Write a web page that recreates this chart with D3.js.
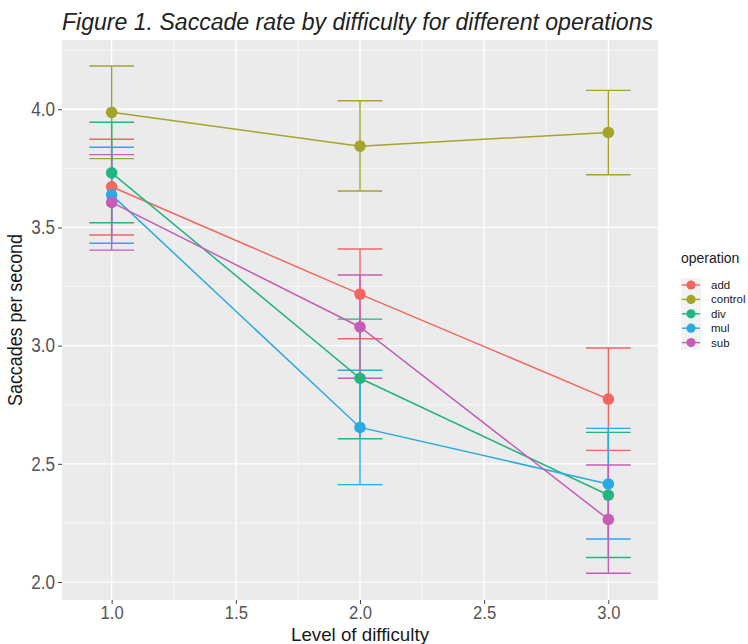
<!DOCTYPE html>
<html>
<head>
<meta charset="utf-8">
<script src="https://cdn.jsdelivr.net/npm/d3@7"></script>
<style>
  html, body { margin: 0; padding: 0; background: #ffffff; }
  svg { display: block; }
  text { font-family: "Liberation Sans", Arial, Helvetica, sans-serif; }
</style>
</head>
<body>
<svg id="chart" width="748" height="644"></svg>
<script>
// ---- data ----
const levels = [1, 2, 3];
const operations = ["add", "control", "div", "mul", "sub"];
const meanAdd     = [3.672, 3.218, 2.774];
const meanControl = [3.987, 3.844, 3.902];
const meanDiv     = [3.731, 2.862, 2.368];
const meanMul     = [3.638, 2.654, 2.415];
const meanSub     = [3.606, 3.079, 2.265];
const lowAdd      = [3.468, 3.029, 2.557];
const lowControl  = [3.791, 3.654, 3.723];
const lowDiv      = [3.520, 2.606, 2.104];
const lowMul      = [3.433, 2.412, 2.182];
const lowSub      = [3.404, 2.862, 2.037];
const highAdd     = [3.873, 3.409, 2.990];
const highControl = [4.183, 4.036, 4.080];
const highDiv     = [3.945, 3.112, 2.633];
const highMul     = [3.839, 2.896, 2.650];
const highSub     = [3.808, 3.299, 2.495];
const xTicks = [1.0, 1.5, 2.0, 2.5, 3.0];
const yTicks = [2.0, 2.5, 3.0, 3.5, 4.0];
const xMinor = [1.25, 1.75, 2.25, 2.75];
const yMinor = [2.25, 2.75, 3.25, 3.75, 4.25];
const colors = ["#F1675F", "#A3A52A", "#22B57F", "#2BA9E1", "#C55DB6"];

const means = [meanAdd, meanControl, meanDiv, meanMul, meanSub];
const lows = [lowAdd, lowControl, lowDiv, lowMul, lowSub];
const highs = [highAdd, highControl, highDiv, highMul, highSub];

const series = operations.map((op, i) => ({
  op, color: colors[i],
  pts: levels.map((lv, j) => ({ x: lv, y: means[i][j], lo: lows[i][j], hi: highs[i][j] }))
}));

// ---- layout ----
const panel = { left: 62, right: 658, top: 40, bottom: 600 };
const x = d3.scaleLinear().domain([0.8, 3.2]).range([panel.left, panel.right]);
const y = d3.scaleLinear().domain([1.924, 4.293]).range([panel.bottom, panel.top]);
const capHalf = 0.09;

const svg = d3.select("#chart");

// panel background
svg.append("rect")
  .attr("x", panel.left).attr("y", panel.top)
  .attr("width", panel.right - panel.left).attr("height", panel.bottom - panel.top)
  .attr("fill", "#EBEBEB");

const grid = svg.append("g");
grid.selectAll(".ym").data(yMinor).join("line")
  .attr("x1", panel.left).attr("x2", panel.right)
  .attr("y1", d => y(d)).attr("y2", d => y(d))
  .attr("stroke", "#fff").attr("stroke-width", 0.6);
grid.selectAll(".xm").data(xMinor).join("line")
  .attr("y1", panel.top).attr("y2", panel.bottom)
  .attr("x1", d => x(d)).attr("x2", d => x(d))
  .attr("stroke", "#fff").attr("stroke-width", 0.6);
grid.selectAll(".yM").data(yTicks).join("line")
  .attr("x1", panel.left).attr("x2", panel.right)
  .attr("y1", d => y(d)).attr("y2", d => y(d))
  .attr("stroke", "#fff").attr("stroke-width", 1.3);
grid.selectAll(".xM").data(xTicks).join("line")
  .attr("y1", panel.top).attr("y2", panel.bottom)
  .attr("x1", d => x(d)).attr("x2", d => x(d))
  .attr("stroke", "#fff").attr("stroke-width", 1.3);

// axes
const yAxis = d3.axisLeft(y).tickValues(yTicks).tickFormat(d3.format(".1f")).tickSize(4).tickPadding(3);
const xAxis = d3.axisBottom(x).tickValues(xTicks).tickFormat(d3.format(".1f")).tickSize(4).tickPadding(2);

const gy = svg.append("g").attr("transform", `translate(${panel.left},0)`).call(yAxis);
const gx = svg.append("g").attr("transform", `translate(0,${panel.bottom})`).call(xAxis);
[gx, gy].forEach(g => {
  g.select(".domain").remove();
  g.selectAll(".tick line").attr("stroke", "#444").attr("stroke-width", 1);
  g.selectAll(".tick text").attr("fill", "#555555")
    .style("font-family", "'Liberation Sans', Arial, sans-serif");
});
gy.selectAll(".tick text").style("font-size", "19.5px")
  .attr("transform", "translate(-7,0) scale(0.88,1)").attr("x", 0);
gx.selectAll(".tick text").style("font-size", "18.5px")
  .attr("transform", "scale(0.9,1)").attr("x", 0);

// error bars
const eb = svg.append("g");
series.forEach(s => {
  const g = eb.append("g").attr("stroke", s.color).attr("stroke-width", 1.4).attr("fill", "none");
  g.selectAll(".v").data(s.pts).join("line")
    .attr("x1", d => x(d.x)).attr("x2", d => x(d.x))
    .attr("y1", d => y(d.lo)).attr("y2", d => y(d.hi));
  g.selectAll(".t").data(s.pts).join("line")
    .attr("x1", d => x(d.x - capHalf)).attr("x2", d => x(d.x + capHalf))
    .attr("y1", d => y(d.hi)).attr("y2", d => y(d.hi));
  g.selectAll(".b").data(s.pts).join("line")
    .attr("x1", d => x(d.x - capHalf)).attr("x2", d => x(d.x + capHalf))
    .attr("y1", d => y(d.lo)).attr("y2", d => y(d.lo));
});

// lines
const line = d3.line().x(d => x(d.x)).y(d => y(d.y));
svg.append("g").selectAll("path").data(series).join("path")
  .attr("d", d => line(d.pts)).attr("fill", "none")
  .attr("stroke", d => d.color).attr("stroke-width", 1.5);

// points
series.forEach(s => {
  svg.append("g").selectAll("circle").data(s.pts).join("circle")
    .attr("cx", d => x(d.x)).attr("cy", d => y(d.y)).attr("r", 5.8)
    .attr("fill", s.color);
});

// title
svg.append("text")
  .attr("x", 62).attr("y", 30)
  .style("font-size", "23px").style("font-style", "italic")
  .attr("fill", "#222")
  .attr("textLength", 591).attr("lengthAdjust", "spacingAndGlyphs")
  .text("Figure 1. Saccade rate by difficulty for different operations");

// axis titles
svg.append("text")
  .attr("x", (panel.left + panel.right) / 2).attr("y", 641)
  .attr("text-anchor", "middle").style("font-size", "18.5px").attr("fill", "#1a1a1a")
  .attr("textLength", 138).attr("lengthAdjust", "spacingAndGlyphs")
  .text("Level of difficulty");
svg.append("text")
  .attr("transform", `translate(22,${(panel.top + panel.bottom) / 2}) rotate(-90)`)
  .attr("text-anchor", "middle").style("font-size", "20px").attr("fill", "#1a1a1a")
  .attr("textLength", 172).attr("lengthAdjust", "spacingAndGlyphs")
  .text("Saccades per second");

// legend
const lg = svg.append("g");
lg.append("text").attr("x", 681).attr("y", 263)
  .style("font-size", "14px").attr("fill", "#1a1a1a").text("operation");
const keyY0 = 285, keyStep = 14.4;
const items = lg.selectAll(".item").data(series).join("g")
  .attr("transform", (d, i) => `translate(0,${keyY0 + i * keyStep})`);
items.append("rect").attr("x", 681).attr("y", -7.2).attr("width", 20).attr("height", 14.4)
  .attr("fill", "#F2F2F2");
items.append("line").attr("x1", 682).attr("x2", 700).attr("y1", 0).attr("y2", 0)
  .attr("stroke", d => d.color).attr("stroke-width", 1.4);
items.append("circle").attr("cx", 691).attr("cy", 0).attr("r", 4.6).attr("fill", d => d.color);
items.append("text").attr("x", 711).attr("y", 4)
  .style("font-size", "11.5px").attr("fill", "#1a1a1a").text(d => d.op);
</script>
</body>
</html>
